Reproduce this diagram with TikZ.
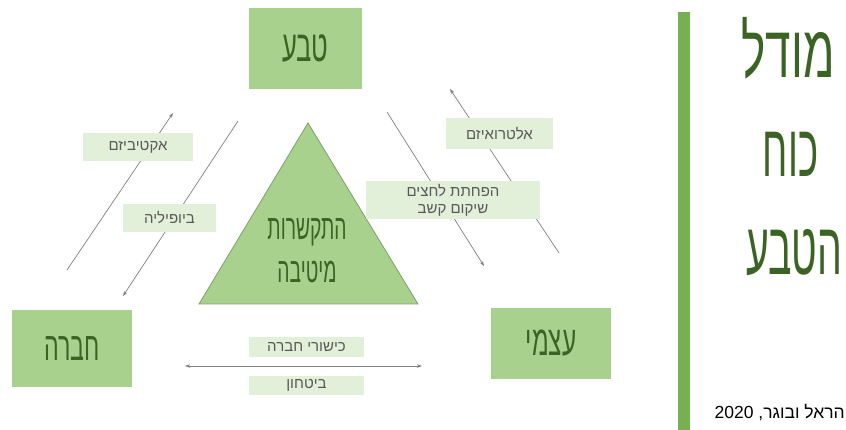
\documentclass[tikz,border=0pt]{standalone}
\usepackage{fontspec}
\usepackage{graphicx}
\setmainfont{Liberation Sans}
\newfontfamily\heb[Script=Hebrew]{Liberation Sans}
\TeXXeTstate=1
\usetikzlibrary{arrows.meta}
\definecolor{boxgreen}{HTML}{A9D18E}
\definecolor{lightgreen}{HTML}{E2F0D9}
\definecolor{darkgreen}{HTML}{3B6323}
\definecolor{bargreen}{HTML}{76B050}
\definecolor{linegray}{HTML}{7F7F7F}
\definecolor{textgray}{HTML}{595959}
\definecolor{triedge}{HTML}{7F9F6A}
\newcommand{\narrowheb}[3]{\scalebox{#1}[1]{\fontsize{#2}{#2}\selectfont\heb\beginR #3\endR}}
\begin{document}
\begin{tikzpicture}[x=1pt,y=-1pt,
  bigbox/.style={fill=boxgreen, draw=none, inner sep=0pt, text=darkgreen},
  lbl/.style={fill=lightgreen, inner sep=0pt, text=textgray, font=\heb\fontsize{15}{19}\selectfont, align=center},
  conn/.style={draw=linegray, line width=0.7pt, -{Stealth[length=5pt,width=3.5pt]}},
  dconn/.style={draw=linegray, line width=0.7pt, {Stealth[length=5pt,width=3.5pt]}-{Stealth[length=5pt,width=3.5pt]}},
  titletext/.style={inner sep=0pt, text=darkgreen, anchor=base}]

\useasboundingbox (0,0) rectangle (846,430);

% main boxes
\node[bigbox, minimum width=113pt, minimum height=81pt] (nature) at (305.5,48.5) {\narrowheb{0.58}{44}{טבע}};
\node[bigbox, minimum width=120pt, minimum height=77pt] (society) at (72,348.5) {\narrowheb{0.58}{40}{חברה}};
\node[bigbox, minimum width=120pt, minimum height=71pt] (self) at (551,343.5) {\narrowheb{0.58}{42}{עצמי}};

% triangle
\coordinate (tA) at (308,123);
\coordinate (tB) at (199,304);
\coordinate (tC) at (418,304);
\draw[fill=boxgreen, draw=triedge, line width=0.8pt] (tA) -- (tB) -- (tC) -- cycle;
\node[titletext] (tri1) at (307,240) {\narrowheb{0.55}{35}{התקשרות}};
\node[titletext] (tri2) at (307,283) {\narrowheb{0.55}{35}{מיטיבה}};

% connectors
\coordinate (l1s) at (67,270);  \coordinate (l1e) at (173,113);
\coordinate (l2s) at (238,121); \coordinate (l2e) at (123,296);
\coordinate (r1s) at (387,112); \coordinate (r1e) at (484,266);
\coordinate (r2s) at (559,253); \coordinate (r2e) at (450,89);
\coordinate (hs) at (185,366);  \coordinate (he) at (422,366);
\draw[conn] (l1s) -- (l1e);
\draw[conn] (l2s) -- (l2e);
\draw[conn] (r1s) -- (r1e);
\draw[conn] (r2s) -- (r2e);
\draw[dconn] (hs) -- (he);

% labels
\node[lbl, minimum width=110pt, minimum height=28pt] (act) at (138,147) {\beginR אקטיביזם\endR};
\node[lbl, minimum width=93pt, minimum height=28pt] (bio) at (169.5,218) {\beginR ביופיליה\endR};
\node[lbl, minimum width=107pt, minimum height=31pt] (alt) at (499.5,133.5) {\beginR אלטרואיזם\endR};
\node[lbl, minimum width=174pt, minimum height=38pt] (stress) at (453,200) {\beginR הפחתת לחצים\endR\\[-2pt]\beginR שיקום קשב\endR};
\node[lbl, minimum width=115pt, minimum height=20pt] (skills) at (306.5,347) {\beginR כישורי חברה\endR};
\node[lbl, minimum width=115pt, minimum height=19pt] (secur) at (306.5,385.5) {\beginR ביטחון\endR};

% vertical bar
\fill[bargreen] (678,12) rectangle (690,430);

% title
\node[titletext] (t1) at (788,78) {\narrowheb{0.62}{74}{מודל}};
\node[titletext] (t2) at (790.5,177) {\narrowheb{0.52}{74}{כוח}};
\node[titletext] (t3) at (794,275) {\narrowheb{0.53}{74}{הטבע}};

% citation
\node[inner sep=0pt, anchor=base east, font=\heb\fontsize{17.5}{20}\selectfont, text=black] (cite) at (845,418) {\beginR הראל ובוגר, \beginL 2020\endL\endR};
\end{tikzpicture}
\end{document}
